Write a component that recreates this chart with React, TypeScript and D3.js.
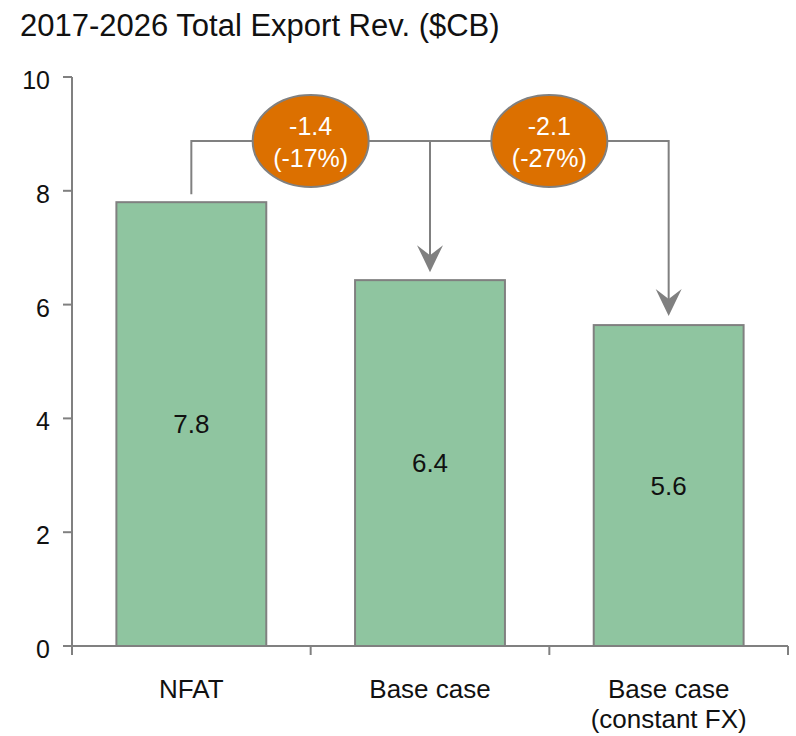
import React from "react";
import * as d3 from "d3";

const title = "2017-2026 Total Export Rev. ($CB)";
const categories = ["NFAT", "Base case", "Base case\n(constant FX)"];
const values = [7.8, 6.43, 5.64];
const valueLabels = ["7.8", "6.4", "5.6"];
const deltaLabels = ["-1.4", "-2.1"];
const pctLabels = ["(-17%)", "(-27%)"];
const yTicks = [0, 2, 4, 6, 8, 10];

const W = 796;
const H = 736;
const FONT = "'Liberation Sans', Arial, Helvetica, sans-serif";
const GREY = "#808080";

export default function App() {
  const x = d3
    .scaleBand<string>()
    .domain(categories)
    .range([72, 788])
    .paddingInner(0.372)
    .paddingOuter(0.186);
  const y = d3.scaleLinear().domain([0, 10]).range([646, 77]);
  const step = x.step();
  const bw = x.bandwidth();
  const cx = (i: number) => (x(categories[i]) as number) + bw / 2;
  const boundaries = d3.range(categories.length + 1).map((i) => 72 + i * step);
  const lineY = 141;

  const arrowHead = (tx: number, ty: number) =>
    `M${tx},${ty} L${tx - 13},${ty - 27} L${tx},${ty - 17} L${tx + 13},${ty - 27} Z`;

  return (
    <svg
      width={W}
      height={H}
      style={{ position: "absolute", left: 0, top: 0, background: "#fff" }}
      fontFamily={FONT}
    >
      <text x={20} y={36} fontSize={31} fill="#111">
        {title}
      </text>

      {/* bars */}
      {values.map((v, i) => (
        <g key={i}>
          <rect
            x={x(categories[i]) as number}
            y={y(v)}
            width={bw}
            height={y(0) - y(v)}
            fill="#8fc5a0"
            stroke={GREY}
            strokeWidth={2}
          />
          <text
            x={cx(i)}
            y={(y(v) + y(0)) / 2}
            dy="0.35em"
            textAnchor="middle"
            fontSize={26}
            fill="#111"
          >
            {valueLabels[i]}
          </text>
        </g>
      ))}

      {/* y axis */}
      <line x1={72} x2={72} y1={y(10)} y2={y(0)} stroke={GREY} strokeWidth={2} />
      {yTicks.map((t) => (
        <g key={t}>
          <line x1={63} x2={72} y1={y(t)} y2={y(t)} stroke={GREY} strokeWidth={2} />
          <text x={50} y={y(t)} dy="0.48em" textAnchor="end" fontSize={25} fill="#111">
            {t}
          </text>
        </g>
      ))}

      {/* x axis */}
      <line x1={72} x2={788} y1={y(0)} y2={y(0)} stroke={GREY} strokeWidth={2} />
      {boundaries.map((b, i) => (
        <line key={i} x1={b} x2={b} y1={y(0)} y2={y(0) + 9} stroke={GREY} strokeWidth={2} />
      ))}
      {categories.map((c, i) => (
        <text key={c} x={cx(i)} y={698} textAnchor="middle" fontSize={26} fill="#111">
          {c.split("\n").map((line, j) => (
            <tspan key={j} x={cx(i)} dy={j === 0 ? 0 : 30}>
              {line}
            </tspan>
          ))}
        </text>
      ))}

      {/* connectors */}
      <path
        d={`M${cx(0)},${y(values[0]) - 8} V${lineY} H${cx(2)} V${y(values[2]) - 14}`}
        fill="none"
        stroke={GREY}
        strokeWidth={2}
      />
      <line x1={cx(1)} x2={cx(1)} y1={lineY} y2={y(values[1]) - 14} stroke={GREY} strokeWidth={2} />
      <path d={arrowHead(cx(1), y(values[1]) - 8)} fill={GREY} />
      <path d={arrowHead(cx(2), y(values[2]) - 9)} fill={GREY} />

      {/* bubbles */}
      {deltaLabels.map((d, i) => {
        const ex = (cx(i) + cx(i + 1)) / 2;
        return (
          <g key={i}>
            <ellipse cx={ex} cy={lineY} rx={58} ry={46} fill="#dc7000" stroke={GREY} strokeWidth={2} />
            <text x={ex} y={135} textAnchor="middle" fontSize={25} fill="#fff">
              {d}
            </text>
            <text x={ex} y={167} textAnchor="middle" fontSize={25} fill="#fff">
              {pctLabels[i]}
            </text>
          </g>
        );
      })}
    </svg>
  );
}
